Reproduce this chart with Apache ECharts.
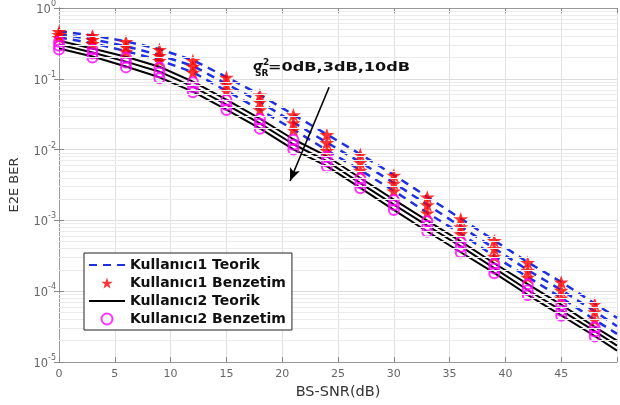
<!DOCTYPE html>
<html><head><meta charset="utf-8">
<script src="https://cdn.jsdelivr.net/npm/echarts@6/dist/echarts.min.js"></script>
<style>html,body{margin:0;padding:0;background:#fff}#c{width:620px;height:405px}</style>
</head><body><div id="c"></div><script>
// X values (BS-SNR in dB)
const snrSim = [0,3,6,9,12,15,18,21,24,27,30,33,36,39,42,45,48];
const snrTheory = [0,3,6,9,12,15,18,21,24,27,30,33,36,39,42,45,48,50];

// Kullanıcı1 simulation (stars), sigma_SR^2 = 0, 3, 10 dB
const u1Sim0  = [0.462,0.406,0.334,0.259,0.181,0.105,0.0588,0.0309,0.0162,0.00851,0.00433,0.00213,0.00105,0.000517,0.000254,0.000134,6.6e-5];
const u1Sim3  = [0.419,0.357,0.285,0.213,0.150,0.0838,0.0469,0.0239,0.0125,0.00658,0.00334,0.00165,0.000811,0.000399,0.000197,0.000103,5.1e-5];
const u1Sim10 = [0.380,0.314,0.243,0.181,0.123,0.0669,0.0363,0.0190,0.0097,0.00508,0.00259,0.00127,0.000647,0.000309,0.000157,8.0e-5,3.9e-5];
// Kullanıcı2 simulation (circles)
const u2Sim0  = [0.334,0.259,0.200,0.145,0.0893,0.0500,0.0271,0.0138,0.00798,0.00393,0.00194,0.000984,0.000500,0.000246,0.000125,6.4e-5,3.1e-5];
const u2Sim3  = [0.294,0.227,0.170,0.123,0.0760,0.0426,0.0231,0.0117,0.00679,0.00334,0.00165,0.000838,0.000426,0.000210,0.000103,5.3e-5,2.7e-5];
const u2Sim10 = [0.259,0.200,0.145,0.102,0.0648,0.0363,0.0197,0.0100,0.00578,0.00285,0.00140,0.000690,0.000351,0.000179,8.8e-5,4.5e-5,2.3e-5];
// Theory curves
const u1Th0  = [0.470,0.410,0.338,0.262,0.183,0.106,0.0595,0.0312,0.0164,0.00860,0.00438,0.00215,0.00106,0.000522,0.000257,0.000135,6.7e-5,4.2e-5];
const u1Th3  = [0.425,0.361,0.289,0.216,0.152,0.0848,0.0474,0.0242,0.0126,0.00665,0.00338,0.00167,0.000820,0.000403,0.000199,0.000104,5.2e-5,3.2e-5];
const u1Th10 = [0.385,0.318,0.246,0.183,0.124,0.0676,0.0367,0.0192,0.0098,0.00513,0.00262,0.00128,0.000654,0.000312,0.000159,8.1e-5,3.95e-5,2.5e-5];
const u2Th0  = [0.345,0.268,0.205,0.148,0.0910,0.0508,0.0274,0.0140,0.00806,0.00397,0.00196,0.000994,0.000505,0.000248,0.000126,6.45e-5,3.13e-5,2.0e-5];
const u2Th3  = [0.305,0.235,0.175,0.126,0.0775,0.0432,0.0234,0.0119,0.00686,0.00337,0.00167,0.000846,0.000430,0.000212,0.000104,5.35e-5,2.73e-5,1.7e-5];
const u2Th10 = [0.268,0.207,0.149,0.105,0.0660,0.0368,0.0200,0.0101,0.00584,0.00288,0.00141,0.000697,0.000355,0.000181,8.9e-5,4.55e-5,2.33e-5,1.45e-5];

const legendNames = ['Kullanıcı1 Teorik','Kullanıcı1 Benzetim','Kullanıcı2 Teorik','Kullanıcı2 Benzetim'];
const xMin = 0, xMax = 50;

const minorGrid = [];
for (let e = -5; e < 0; e++) for (let m = 2; m <= 9; m++) {
  const v = m * Math.pow(10, e);
  minorGrid.push([{coord: [xMin, v]}, {coord: [xMax, v]}]);
}

const zip = (xs, ys) => ys.map((y, i) => [xs[i], y]);
const STAR = 'path://M50,0L61.23,34.55L97.55,34.55L68.16,55.9L79.39,90.45L50,69.1L20.61,90.45L31.84,55.9L2.45,34.55L38.77,34.55Z';
const FONT = 'DejaVu Sans';

function thLine(name, vals, color, dashed, extra) {
  return Object.assign({
    name, type: 'line', data: zip(snrTheory, vals), symbol: 'circle', symbolSize: 0, showSymbol: false, z: 3,
    lineStyle: {color, width: dashed ? 2.5 : 2, type: dashed ? [8, 6] : 'solid'},
    itemStyle: {color, opacity: 0}, emphasis: {disabled: true}
  }, extra || {});
}
function simPts(name, vals, isStar) {
  return {
    name, type: 'scatter', data: zip(snrSim, vals), z: 4,
    symbol: isStar ? STAR : 'circle',
    symbolSize: isStar ? [15, 14] : 10,
    itemStyle: isStar ? {color: '#ff0000'} : {color: 'rgba(255,255,255,0)', borderColor: '#ff00ff', borderWidth: 2},
    emphasis: {disabled: true}
  };
}

const chart = echarts.init(document.getElementById('c'));
chart.setOption({
  animation: false,
  backgroundColor: '#fff',
  grid: {left: 55, right: 2, top: 5, bottom: 43},
  legend: {
    data: legendNames, z: 20,
    orient: 'vertical', left: 84, top: 253,
    itemWidth: 36, itemHeight: 11, itemGap: 4, padding: [5, 6, 4, 4],
    borderColor: '#222', borderWidth: 1, backgroundColor: '#fff',
    textStyle: {fontFamily: FONT, fontWeight: 'bold', fontSize: 14, color: '#111'}
  },
  xAxis: [{
    type: 'value', min: xMin, max: xMax, interval: 5,
    name: 'BS-SNR(dB)', nameLocation: 'middle', nameGap: 23,
    nameTextStyle: {fontFamily: FONT, fontSize: 14.5, color: '#333'},
    axisLine: {lineStyle: {color: '#999'}},
    axisTick: {inside: true, length: 5, lineStyle: {color: '#888'}},
    axisLabel: {margin: 7, fontFamily: FONT, fontSize: 11, color: '#666', formatter: v => v === xMax ? '' : String(v)},
    splitLine: {show: true, lineStyle: {color: '#e2e2e2'}}
  }, {
    type: 'value', min: xMin, max: xMax, interval: 5, position: 'top',
    axisLine: {show: true, lineStyle: {color: '#999'}},
    axisTick: {inside: true, length: 5, lineStyle: {color: '#888'}},
    axisLabel: {show: false}, splitLine: {show: false}
  }],
  yAxis: [{
    type: 'log', logBase: 10, min: 1e-5, max: 1,
    name: 'E2E BER', nameLocation: 'middle', nameGap: 38, nameRotate: 90,
    nameTextStyle: {fontFamily: FONT, fontSize: 13, color: '#333'},
    axisLine: {show: true, lineStyle: {color: '#999'}},
    axisTick: {inside: true, length: 5, lineStyle: {color: '#888'}},
    axisLabel: {
      margin: 3, fontFamily: FONT, color: '#666',
      formatter: v => '{a|10}{b|' + Math.round(Math.log10(v)) + '}',
      rich: {
        a: {fontFamily: FONT, fontSize: 11.5, color: '#666', lineHeight: 16, verticalAlign: 'bottom', padding: [4, 0, 0, 0]},
        b: {fontFamily: FONT, fontSize: 8, color: '#666', lineHeight: 8, verticalAlign: 'top'}
      }
    },
    splitLine: {show: true, lineStyle: {color: '#dcdcdc'}}
  }, {
    type: 'log', logBase: 10, min: 1e-5, max: 1, position: 'right',
    axisLine: {show: true, lineStyle: {color: '#999'}},
    axisTick: {inside: true, length: 5, lineStyle: {color: '#888'}},
    axisLabel: {show: false}, splitLine: {show: false}
  }],
  series: [
    {type: 'line', data: [], z: 1, silent: true,
     markLine: {silent: true, symbol: 'none', label: {show: false}, animation: false,
       lineStyle: {color: '#ebebeb', width: 1, type: 'solid'}, data: minorGrid}},
    thLine(legendNames[0], u1Th0, '#1f30e0', true, {
      markLine: {silent: true, symbol: ['none', 'arrow'], symbolSize: [8, 13], label: {show: false}, animation: false,
        lineStyle: {color: '#000', width: 1.6, type: 'solid', opacity: 1},
        itemStyle: {opacity: 1},
        data: [[{coord: [24.2, 0.076]}, {coord: [20.7, 0.0036]}]]}
    }),
    thLine(legendNames[0], u1Th3, '#1f30e0', true),
    thLine(legendNames[0], u1Th10, '#1f30e0', true),
    simPts(legendNames[1], u1Sim0, true),
    simPts(legendNames[1], u1Sim3, true),
    simPts(legendNames[1], u1Sim10, true),
    thLine(legendNames[2], u2Th0, '#000000', false),
    thLine(legendNames[2], u2Th3, '#000000', false),
    thLine(legendNames[2], u2Th10, '#000000', false),
    simPts(legendNames[3], u2Sim0, false),
    simPts(legendNames[3], u2Sim3, false),
    simPts(legendNames[3], u2Sim10, false)
  ],
  graphic: [
    {type: 'text', x: 253, y: 67, z: 10, style: {text: 'σ', font: 'italic bold 13px DejaVu Sans', fill: '#111', verticalAlign: 'middle'}},
    {type: 'text', x: 263, y: 63, z: 10, style: {text: '2', font: 'bold 9px DejaVu Sans', fill: '#111', verticalAlign: 'middle'}},
    {type: 'text', x: 255, y: 74, z: 10, style: {text: 'SR', font: 'bold 9px DejaVu Sans', fill: '#111', verticalAlign: 'middle'}},
    {type: 'text', x: 268, y: 68, z: 10, scaleX: 1.29, style: {text: '=0dB,3dB,10dB', font: 'bold 12.5px DejaVu Sans', fill: '#111', verticalAlign: 'middle'}}
  ]
});
</script></body></html>
